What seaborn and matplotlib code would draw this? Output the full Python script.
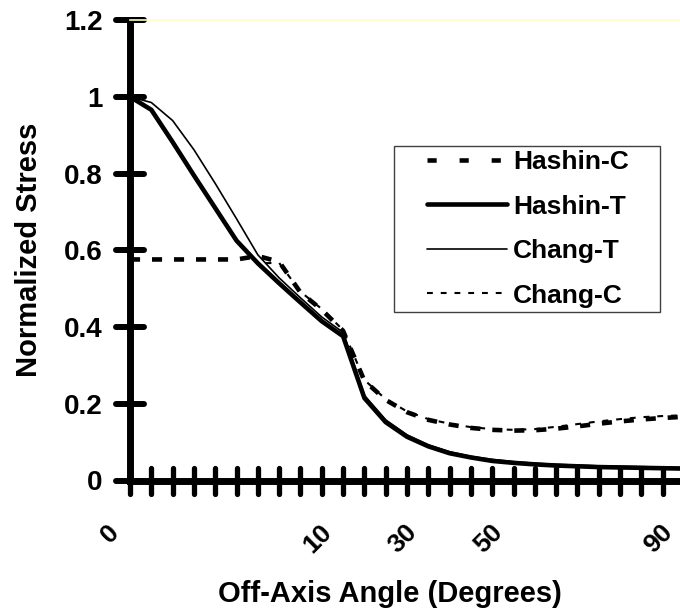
import numpy as np
import pandas as pd
import matplotlib
matplotlib.use('Agg')
import matplotlib.pyplot as plt
import seaborn as sns
from matplotlib.markers import MarkerStyle
from matplotlib.transforms import ScaledTranslation

# Off-axis angle categories (Excel-style category axis, uneven steps)
angles = [0, 1, 2, 3, 4, 5, 6, 7, 8, 9, 10, 15, 20, 25, 30, 35, 40, 45, 50,
          55, 60, 65, 70, 75, 80, 85, 90]
labeled_angles = [0, 10, 30, 50, 90]

# Normalized stress
hashin_c = [0.576, 0.576, 0.576, 0.576, 0.576, 0.576, 0.585, 0.570, 0.490, 0.445,
            0.390, 0.260, 0.210, 0.178, 0.158, 0.146, 0.137, 0.132, 0.130,
            0.131, 0.135, 0.141, 0.148, 0.154, 0.159, 0.163, 0.166]
hashin_t = [1.000, 0.966, 0.882, 0.795, 0.710, 0.625, 0.566, 0.514, 0.464, 0.415,
            0.376, 0.215, 0.152, 0.114, 0.089, 0.071, 0.060, 0.051, 0.046,
            0.042, 0.039, 0.037, 0.035, 0.034, 0.033, 0.032, 0.031]
chang_t = [1.000, 0.985, 0.938, 0.862, 0.774, 0.682, 0.588, 0.528, 0.476, 0.426,
           0.386, 0.222, 0.158, 0.119, 0.093, 0.075, 0.063, 0.055, 0.049,
           0.045, 0.042, 0.040, 0.038, 0.037, 0.036, 0.035, 0.034]
chang_c = [1.000, 0.966, 0.882, 0.795, 0.710, 0.625, 0.566, 0.567, 0.492, 0.447,
           0.392, 0.262, 0.212, 0.180, 0.160, 0.148, 0.139, 0.134, 0.132,
           0.134, 0.140, 0.147, 0.154, 0.160, 0.165, 0.168, 0.170]

series_names = ['Hashin-C', 'Hashin-T', 'Chang-T', 'Chang-C']
draw_order = ['Chang-C', 'Chang-T', 'Hashin-C', 'Hashin-T']

y_ticks = [0, 0.2, 0.4, 0.6, 0.8, 1.0, 1.2]
y_tick_labels = ['0', '0.2', '0.4', '0.6', '0.8', '1', '1.2']

sns.set_style('white')
plt.rcParams['font.family'] = ['Liberation Sans', 'DejaVu Sans']
plt.rcParams.update({'text.color': 'black', 'axes.labelcolor': 'black',
                     'xtick.color': 'black', 'ytick.color': 'black',
                     'axes.edgecolor': 'black'})

pos = np.arange(len(angles))
df = pd.DataFrame({'pos': pos, 'Hashin-C': hashin_c, 'Hashin-T': hashin_t,
                   'Chang-T': chang_t, 'Chang-C': chang_c})

styles = {
    'Hashin-C': dict(linewidth=3.3, linestyle=(0, (2.2, 2.6))),
    'Hashin-T': dict(linewidth=3.3, linestyle='-'),
    'Chang-T': dict(linewidth=1.2, linestyle='-'),
    'Chang-C': dict(linewidth=1.5, linestyle=(0, (2.8, 3.8))),
}

fig = plt.figure(figsize=(6.8, 6.13), dpi=100)
ax = fig.add_axes([130 / 680, 132.5 / 613, 554 / 680, 460.5 / 613])

for name in draw_order:
    sns.lineplot(data=df, x='pos', y=name, ax=ax, color='black', label=name,
                 solid_joinstyle='round', dash_joinstyle='round',
                 **styles[name])

ax.set_xlim(0, len(angles) - 1)
ax.set_ylim(0, 1.2)

# x ticks at every category, labels only on a few
ax.set_xticks(pos)
ax.set_xticklabels([str(a) if a in labeled_angles else '' for a in angles],
                   rotation=45, ha='right', va='center', rotation_mode='anchor',
                   fontsize=19, fontweight='bold')
ax.set_yticks(y_ticks)
ax.set_yticklabels(y_tick_labels, fontsize=20, fontweight='bold')

ax.tick_params(axis='x', which='major', bottom=True, top=False,
               direction='inout', length=19, width=3.8, pad=25)
ax.tick_params(axis='y', which='major', left=True, right=False,
               direction='inout', length=19.5, width=4.3, pad=10)

for t in ax.xaxis.get_major_ticks():
    t.tick1line.set_marker(MarkerStyle('|', capstyle='round'))
for t in ax.yaxis.get_major_ticks():
    t.tick1line.set_marker(MarkerStyle('_', capstyle='round'))

shift = ScaledTranslation(-15 / 100, 0, fig.dpi_scale_trans)
for lab in ax.get_xticklabels():
    lab.set_transform(lab.get_transform() + shift)

for side in ['left', 'bottom']:
    ax.spines[side].set_linewidth(5)
    ax.spines[side].set_color('black')
ax.spines['top'].set_color('#ffffc4')
ax.spines['top'].set_linewidth(1.2)
ax.spines['right'].set_visible(False)

ax.set_xlabel('Off-Axis Angle (Degrees)', fontsize=21, fontweight='bold')
ax.xaxis.set_label_coords(0.469, -0.215)
ax.set_ylabel('Normalized Stress', fontsize=21, fontweight='bold')
ax.yaxis.set_label_coords(-0.157, 0.5)

# legend: wide frame, samples start a bit in from the left edge
handles, labels = ax.get_legend_handles_labels()
lookup = dict(zip(labels, handles))
leg_w = 266 / 554
leg_top = 0.7264
leg = ax.legend([lookup[n] for n in series_names], series_names,
                loc='upper left', mode='expand',
                bbox_to_anchor=(0.4765, leg_top - 0.3, leg_w, 0.3),
                borderaxespad=0, frameon=True, fancybox=False,
                edgecolor='#404040', framealpha=1,
                prop={'weight': 'bold', 'size': 19},
                handlelength=4.13, handletextpad=0.23, labelspacing=0.78,
                borderpad=0.15)
leg.get_frame().set_linewidth(1.0)
hl = 4.13 * 19
for line in leg.get_lines():
    y0 = line.get_ydata()[0]
    line.set_data([20.9, hl], [y0, y0])
leg.get_lines()[0].set_linestyle((0, (2.0, 5.0)))

fig.savefig('out.png', dpi=100)
